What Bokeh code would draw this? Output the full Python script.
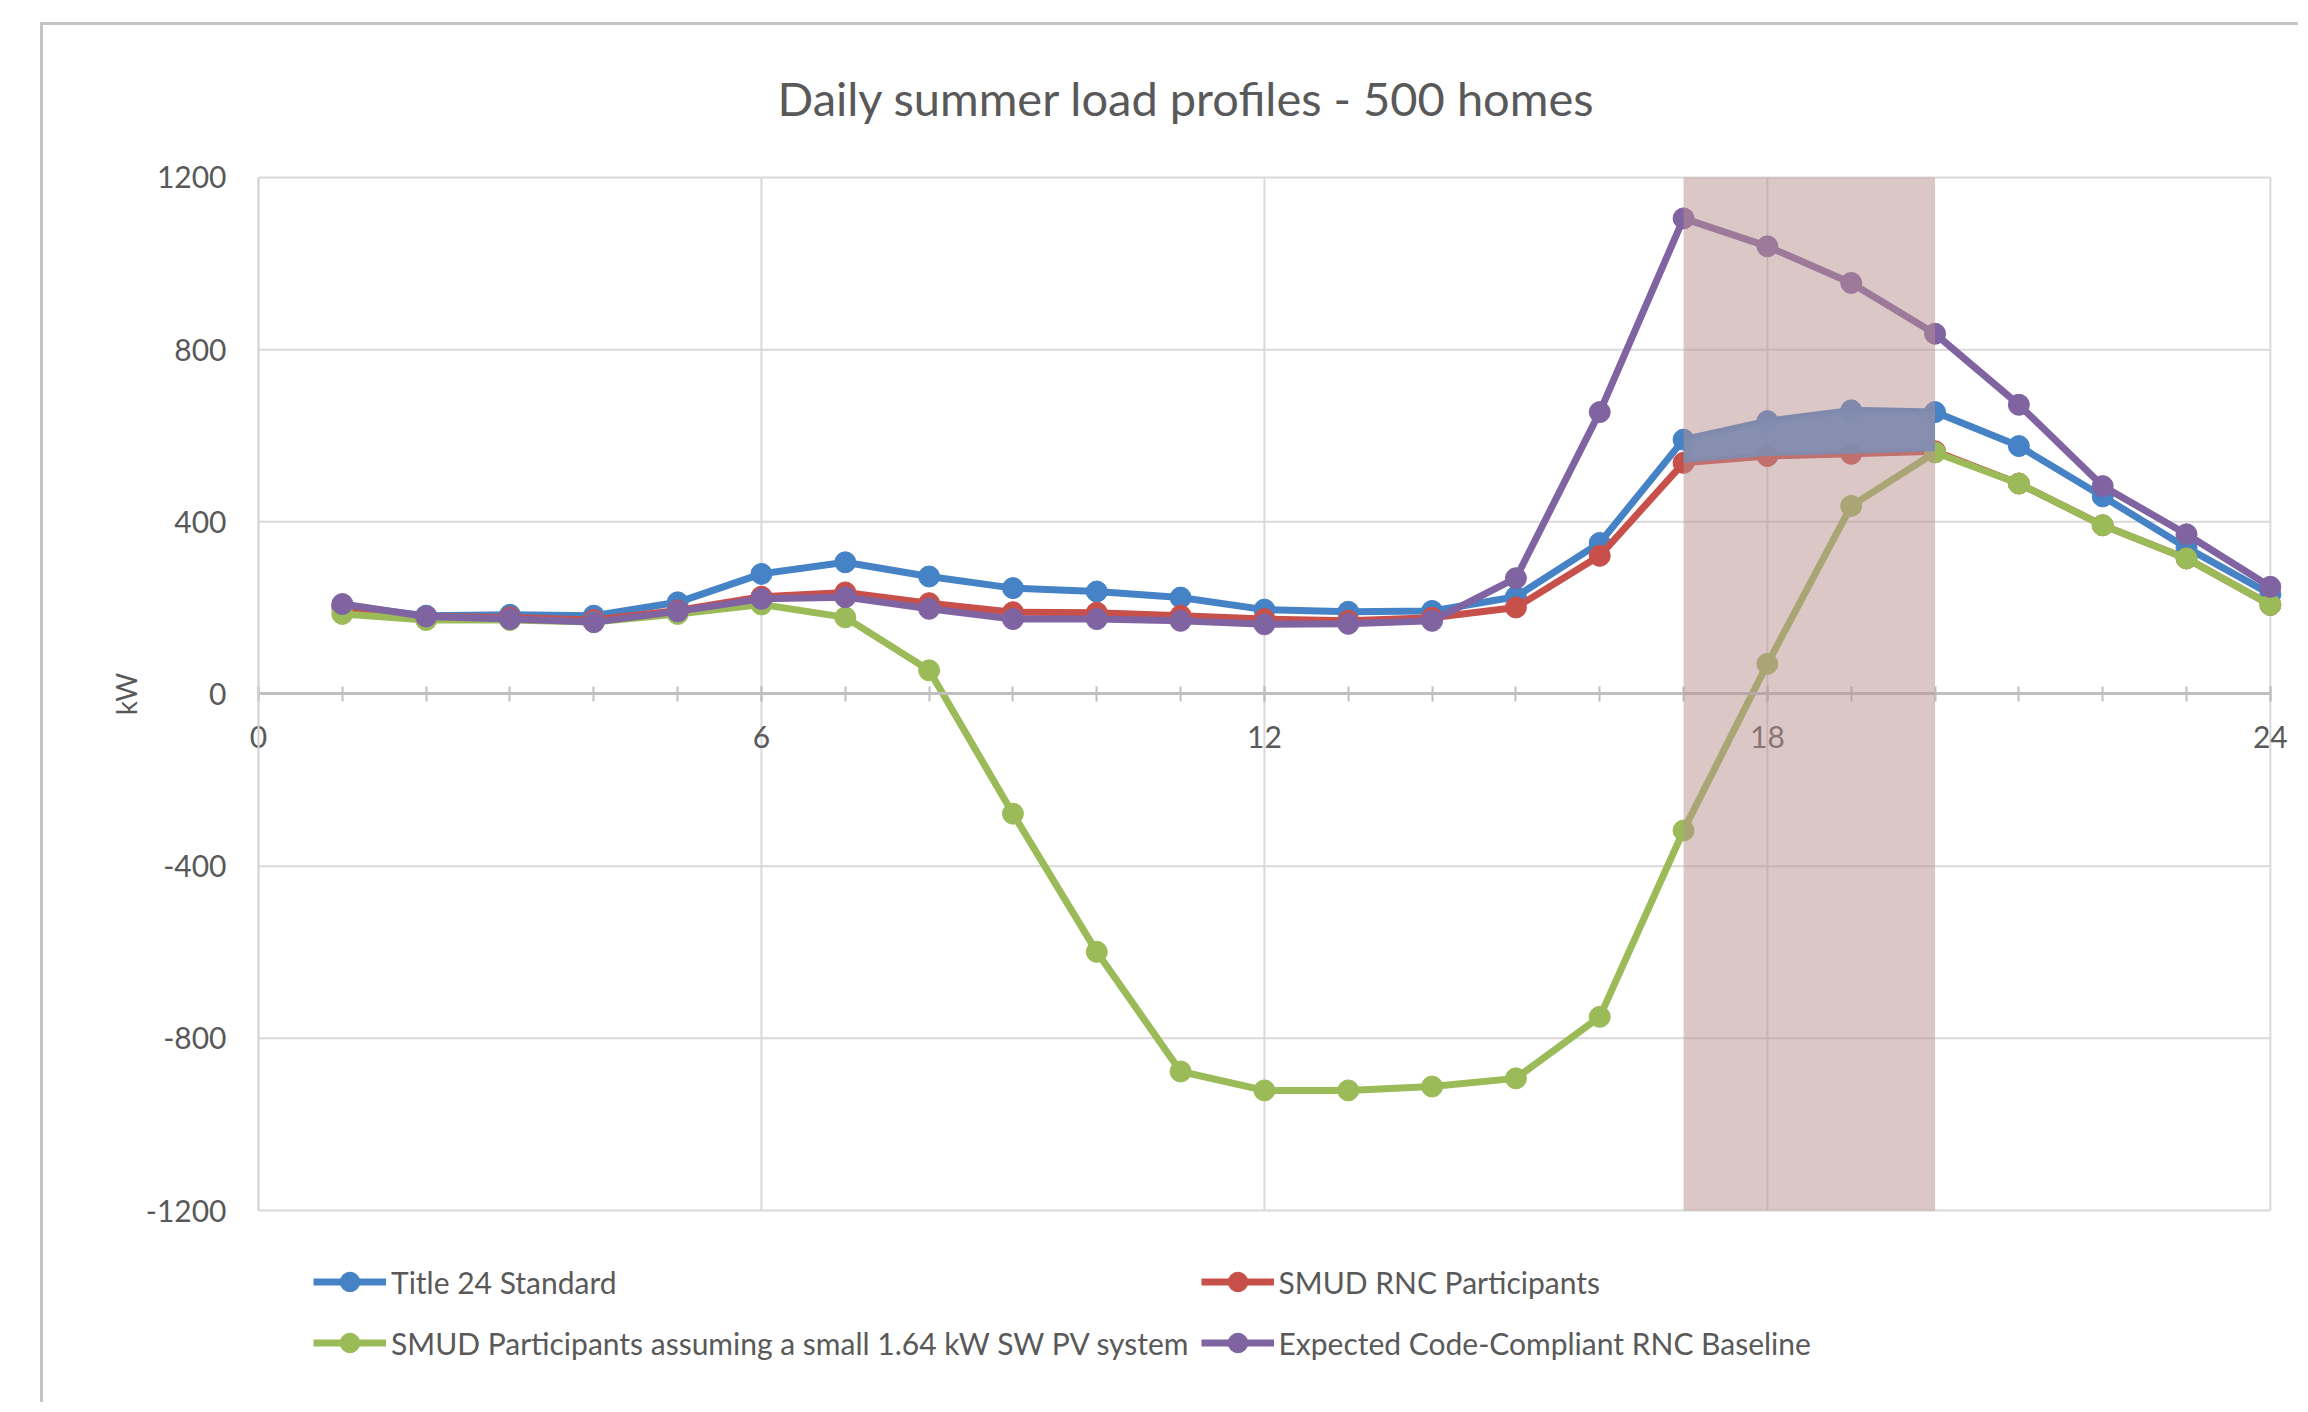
from bokeh.plotting import figure
from bokeh.models import FixedTicker, Legend, LegendItem, BoxAnnotation, Range1d
from bokeh.embed import file_html
from bokeh.resources import INLINE

# ---- data ----
hours = list(range(1, 25))
title24 = [205, 182, 184, 182, 213, 279, 306, 273, 246, 238, 224, 196,
           191, 193, 226, 351, 591, 634, 659, 655, 576, 459, 340, 232]
smud_rnc = [200, 180, 178, 172, 194, 226, 236, 211, 190, 189, 182, 174,
            170, 177, 201, 321, 537, 553, 558, 564, 489, 392, 315, 207]
smud_pv = [186, 172, 172, 167, 186, 208, 178, 55, -278, -599, -877, -921,
           -921, -912, -893, -750, -317, 70, 437, 561, 489, 392, 315, 207]
baseline = [209, 180, 174, 167, 192, 221, 225, 198, 174, 174, 170, 162,
            163, 170, 269, 655, 1105, 1040, 955, 837, 672, 483, 371, 249]

series_names = ["Title 24 Standard", "SMUD RNC Participants",
                "SMUD Participants assuming a small 1.64 kW SW PV system",
                "Expected Code-Compliant RNC Baseline"]
series_colors = ["#4682c6", "#c8504b", "#9bbb59", "#8064a2"]

peak_start, peak_end = 17, 20
x_major = [0, 6, 12, 18, 24]
x_minor = list(range(0, 25))
y_ticks = [-1200, -800, -400, 0, 400, 800, 1200]
y_labels = {t: str(t) for t in y_ticks}   # plain hyphen minus, as in the source

FONT = "Lato"
TXT = "#595959"
GRID = "#d9d9d9"

# The frame is larger than the 0..24 / -1200..1200 plot area so that the
# axis labels and the legend (drawn inside the frame) are not clipped.
p = figure(width=2258, height=1380,
           x_range=Range1d(-2.362, 24.30), y_range=Range1d(-1641.4, 1292.9),
           output_backend="svg", toolbar_location=None,
           min_border_left=17, min_border_right=6, min_border_top=112,
           min_border_bottom=5,
           styles={"margin-left": "40px", "margin-top": "22px",
                   "border-top": "3px solid #c4c4c4",
                   "border-left": "3px solid #c4c4c4"})

p.background_fill_color = "white"
p.border_fill_color = "white"
p.outline_line_color = None

# title
p.title.text = "Daily summer load profiles - 500 homes"
p.title.align = "left"
p.title.offset = 717
p.title.standoff = 24
p.title.text_font = FONT
p.title.text_font_size = "47px"
p.title.text_font_style = "normal"
p.title.text_color = TXT

# grid lines limited to the plot area
p.xgrid.visible = False
p.ygrid.visible = False
p.segment(x0=[x_major[0]] * len(y_ticks), y0=y_ticks,
          x1=[x_major[-1]] * len(y_ticks), y1=y_ticks,
          line_color=GRID, line_width=2)
p.segment(x0=x_major[1:], y0=[y_ticks[0]] * 4,
          x1=x_major[1:], y1=[y_ticks[-1]] * 4,
          line_color=GRID, line_width=2)

# x axis through zero
xa = p.xaxis[0]
xa.fixed_location = 0
xa.bounds = (x_major[0], x_major[-1])
xa.ticker = FixedTicker(ticks=x_major, minor_ticks=x_minor)
xa.axis_line_color = "#bfbfbf"
xa.axis_line_width = 3
for attr in ("major", "minor"):
    setattr(xa, f"{attr}_tick_line_color", "#bfbfbf")
    setattr(xa, f"{attr}_tick_line_width", 2)
    setattr(xa, f"{attr}_tick_in", 7)
    setattr(xa, f"{attr}_tick_out", 8)
xa.major_label_standoff = 24
xa.major_label_text_font = FONT
xa.major_label_text_font_size = "30px"
xa.major_label_text_color = TXT

# y axis at x = 0
ya = p.yaxis[0]
ya.fixed_location = 0
ya.bounds = (y_ticks[0], y_ticks[-1])
ya.ticker = FixedTicker(ticks=y_ticks)
ya.major_label_overrides = y_labels
ya.major_tick_line_color = None
ya.minor_tick_line_color = None
ya.axis_line_color = "#d0d0d0"
ya.axis_line_width = 2
ya.major_label_standoff = 26
ya.major_label_text_font = FONT
ya.major_label_text_font_size = "30px"
ya.major_label_text_color = TXT
ya.axis_label = "kW"
ya.axis_label_standoff = 0
ya.axis_label_text_font = FONT
ya.axis_label_text_font_size = "28px"
ya.axis_label_text_font_style = "normal"
ya.axis_label_text_color = TXT

# series
items = []
for name, col, vals in zip(series_names, series_colors,
                           [title24, smud_rnc, smud_pv, baseline]):
    ln = p.line(hours, vals, line_color=col, line_width=7)
    sc = p.scatter(hours, vals, size=21, fill_color=col, line_color=col)
    items.append(LegendItem(label=name, renderers=[ln, sc]))

# gap between Title 24 and SMUD RNC during the peak window
i0, i1 = hours.index(peak_start), hours.index(peak_end) + 1
p.varea(x=hours[i0:i1], y1=smud_rnc[i0:i1], y2=title24[i0:i1],
        fill_color="#4a88cc", fill_alpha=0.95)

# peak window shading
p.add_layout(BoxAnnotation(left=peak_start, right=peak_end,
                           bottom=y_ticks[0], top=y_ticks[-1],
                           fill_color="#b98f8f", fill_alpha=0.5,
                           line_color=None))

legend = Legend(items=items, orientation="horizontal", ncols=2,
                location=(253, 33))
legend.label_text_font = FONT
legend.label_text_font_size = "30px"
legend.label_text_color = TXT
legend.glyph_width = 73
legend.glyph_height = 49
legend.label_height = 49
legend.label_standoff = 5
legend.spacing = 12
legend.padding = 0
legend.margin = 0
legend.border_line_color = None
legend.background_fill_alpha = 0
p.add_layout(legend, "center")

open("out.html", "w").write(file_html(p, INLINE))
